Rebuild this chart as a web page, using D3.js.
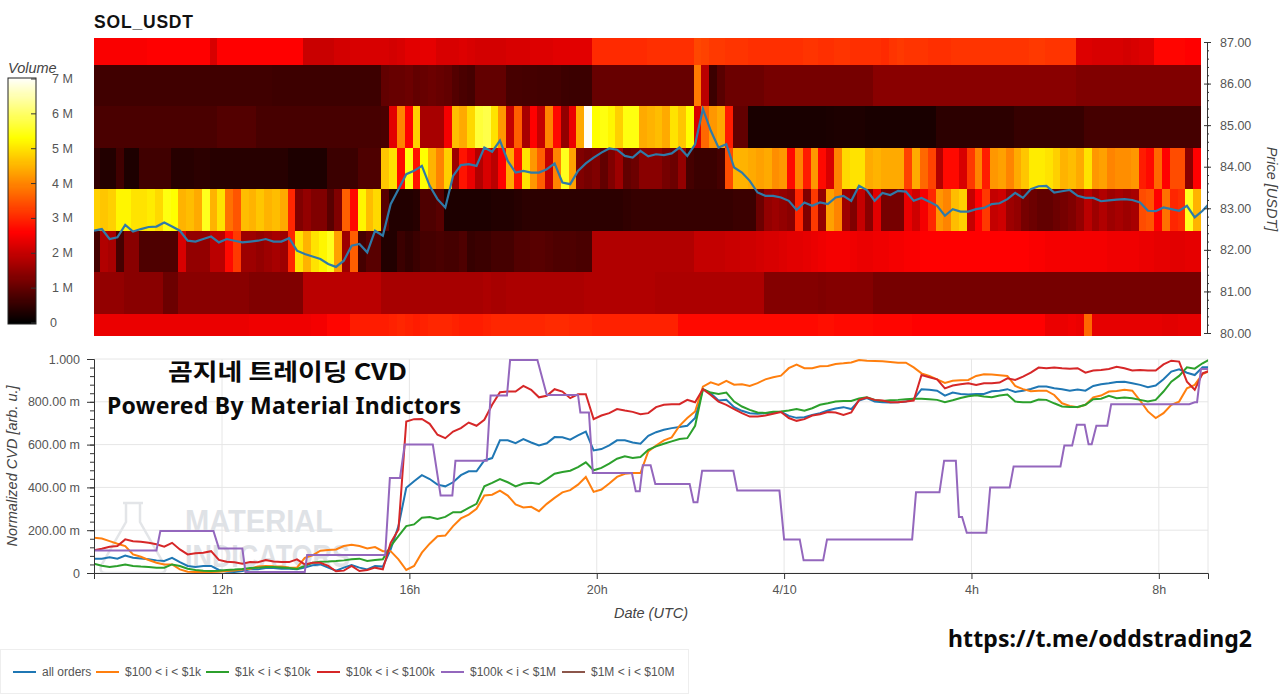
<!DOCTYPE html>
<html>
<head>
<meta charset="utf-8">
<script src="https://cdn.jsdelivr.net/npm/d3@7/dist/d3.min.js"></script>
<style>
	html, body { margin: 0; padding: 0; background: #fff; overflow: hidden; }
	svg { display: block; font-family: "Liberation Sans", Arial, sans-serif; }
	.axis text { fill: #555; font-size: 12.5px; font-family: "Liberation Sans", Arial, sans-serif; }
	.axis line, .axis path { stroke: #333; }
	.axis-label { fill: #444; font-size: 14.5px; font-style: italic; }
	.overlay { fill: #0a0a0a; font-weight: 700; font-family: "Noto Sans CJK KR", "Noto Sans", sans-serif; }
</style>
</head>
<body>
<svg id="chart" width="1280" height="694"></svg>
<script>
// time base of the chart, every series is in minutes after this
var startTime = Date.UTC(2024, 3, 9, 9, 16);
var endMinutes = 1427, heatEndMinutes = 1417, stepMinutes = 10, heatShiftMinutes = -2;

var priceEdges = [79.93, 80.47, 81.47, 82.47, 83.47, 84.47, 85.47, 86.47, 87.1];
var priceTicks = [80, 81, 82, 83, 84, 85, 86, 87];
var cvdTicks = [0, 0.2, 0.4, 0.6, 0.8, 1];
var cvdTickLabels = ["0", "200.00 m", "400.00 m", "600.00 m", "800.00 m", "1.000"];
var volumeTicks = [0, 1, 2, 3, 4, 5, 6, 7];
var volumeTickLabels = ["0", "1 M", "2 M", "3 M", "4 M", "5 M", "6 M", "7 M"];
var volumeStops = [0, 2.6, 5.3, 7.05];
var volumeColors = ["#000000", "#ff0000", "#ffff00", "#ffffff"];
var timeTickLabels = ["12h", "16h", "20h", "4/10", "4h", "8h"];
var legendLabels = ["all orders", "$100 < i < $1k", "$1k < i < $10k", "$10k < i < $100k", "$100k < i < $1M", "$1M < i < $10M"];
var legendColors = ["#1f77b4", "#ff7f0e", "#2ca02c", "#d62728", "#9467bd", "#8c564b"];

// volume per price bin (millions), one value per 10 minute column
var heat80 = [2.4,2.4,2.4,2.4,2.4,2.4,2.4,2.4,2.4,2.4, 2.4,2.4,2.4,2.4,2.4,2.4,2.4,2.4,2.4,2.4, 2.45,2.45,2.45,2.45,2.45,2.45,2.45,2.45,2.5,2.5,
	2.65,2.65,2.65,2.9,2.9,2.9,2.9,2.9,2.95,3.0, 2.95,2.9,2.95,3.0,3.0,3.0,2.95,2.9,2.9,2.9, 2.95,3.0,3.0,3.0,3.0,3.0,3.0,3.0,3.05,3.05,
	3.05,3.0,3.0,3.0,2.95,2.95,2.95,2.95,2.95,2.95, 2.95,2.95,2.95,2.95,2.95,2.7,2.7,2.7,2.7,2.7, 2.7,2.7,2.7,2.7,2.7,2.7,2.7,2.7,2.7,2.7,
	2.7,2.7,2.7,2.75,2.75,2.7,2.7,2.7,2.7,2.7, 2.65,2.65,2.65,2.65,2.65,2.6,2.6,2.6,2.6,2.6, 2.6,2.6,2.6,2.6,2.6,2.6,2.6,2.6,2.6,2.6,
	2.6,2.6,2.4,2.4,2.4,2.45,2.4,3.7,2.35,2.35, 2.35,2.35,2.35,2.35,2.35,2.35,2.35,2.3,2.3,2.35, 2.35,2.35];
var heat81 = [1.5,1.5,1.5,1.5,1.4,1.4,1.4,1.4,1.4,1.1, 1.1,1.4,1.4,1.4,1.4,1.4,1.4,1.4,1.4,1.4, 1.3,1.3,1.3,1.3,1.3,1.3,1.3,1.9,1.9,1.9,
	1.9,1.9,1.9,1.9,1.9,1.9,1.9,1.7,1.7,1.7, 1.7,1.7,1.7,1.7,1.7,1.7,1.7,1.7,1.7,1.7, 1.75,1.7,1.7,1.75,1.75,1.75,1.75,1.75,1.75,1.75,
	1.75,1.75,1.75,1.8,1.8,1.8,1.8,1.8,1.8,1.8, 1.8,1.8,1.75,1.75,1.75,1.75,1.75,1.75,1.75,1.75, 1.75,1.75,1.75,1.75,1.75,1.75,1.35,1.35,1.35,1.35,
	1.35,1.35,1.35,1.3,1.35,1.35,1.35,1.35,1.35,1.35, 1.2,1.2,1.2,1.2,1.2,1.2,1.2,1.2,1.2,1.2, 1.2,1.2,1.2,1.2,1.2,1.2,1.2,1.2,1.2,1.2,
	1.2,1.2,1.2,1.2,1.2,1.2,1.2,1.2,1.2,1.2, 1.2,1.2,1.2,1.2,1.2,1.2,1.2,1.2,1.2,1.2, 1.2,1.2];
var heat82 = [.7,1.8,1.7,.7,1.4,1.4,.8,.8,.8,.8, .8,2.2,1.5,1.5,1.5,1.9,1.9,2.7,3.2,1.6, 1.6,1.5,1.6,1.7,1.6,3.0,5.0,4.5,5.0,5.2,
	5.5,4.3,1.6,3.6,.7,.9,.9,.35,.35,.6, .5,.6,.7,.7,.75,.7,.7,.8,.55,.6, .6,.7,.7,.7,.85,.85,.9,.9,.85,.8,
	.8,.8,.75,.75,1.8,1.8,1.8,1.8,1.8,1.8, 1.8,1.8,1.8,1.8,1.8,1.8,1.8,2.0,2.0,2.0, 2.0,2.05,2.05,2.1,2.1,2.15,2.2,2.2,2.25,2.3,
	2.3,2.35,2.4,2.45,2.5,2.5,2.5,2.45,2.4,2.4, 2.45,2.45,2.5,2.5,2.55,2.55,2.6,2.6,2.6,2.6, 2.6,2.6,2.6,2.6,2.6,2.6,2.6,2.6,2.6,2.6,
	2.55,2.55,2.5,2.5,2.5,2.5,2.5,2.5,2.5,2.5, 2.45,2.45,2.45,2.45,2.4,2.4,2.35,2.35,2.3,2.3, 2.35,2.35];
var heat83 = [4.8,4.7,4.8,5.2,5.2,5.0,5.0,5.1,4.9,5.4, 5.3,4.5,4.6,4.4,5.5,4.5,5.0,3.8,3.5,4.6, 4.5,4.7,4.5,4.6,4.4,3.0,1.3,1.5,1.3,1.3,
	.9,1.3,3.6,2.7,5.2,4.6,4.9,.9,.35,.35, .35,.4,.8,.8,.9,.3,.3,.3,.3,.3, .3,.35,.35,.35,.4,.45,.45,.45,.45,.45,
	.45,.45,.45,.45,.45,.45,.45,.45,.5,.55, .55,.55,.55,.55,.55,.55,.55,.55,.55,.55, .55,.55,.6,.6,.6,1.1,1.5,1.6,1.5,1.4,
	3.0,1.3,3.2,1.5,4.3,4.0,1.6,1.3,2.0,1.4, 2.3,1.2,1.2,1.2,2.4,2.1,2.5,3.0,4.2,4.0, 4.6,4.8,2.0,2.6,3.2,2.0,2.1,1.6,1.5,1.2,
	1.1,1.0,1.0,1.1,1.2,1.3,1.5,1.9,1.6,1.8, 1.6,1.7,1.6,1.7,3.4,3.5,2.6,3.8,3.0,3.1, 5.5,4.5];
var heat84 = [.5,.35,.35,.65,.3,.3,.65,.65,.65,.65, .4,.4,.4,.45,.45,.4,.4,.4,.4,.4, .4,.4,.4,.4,.4,.3,.3,.3,.3,.3,
	.6,.6,.6,.6,.8,.8,.8,4.7,5.0,2.7, 5.4,2.8,5.3,4.5,4.0,4.8,1.6,2.8,2.4,1.8, 2.2,1.9,2.6,4.4,2.8,5.0,4.2,3.6,2.0,4.0,
	5.5,4.3,1.3,1.2,1.3,1.0,1.3,1.6,1.0,1.1, 1.4,1.4,1.4,1.2,1.1,1.5,.7,.6,.6,.6, .7,3.4,4.5,4.5,4.4,4.3,4.4,4.1,4.2,2.7,
	4.0,2.9,4.2,2.7,2.2,4.0,4.9,5.0,5.0,4.4, 4.5,4.4,4.4,4.4,3.3,4.4,3.7,3.3,1.8,2.7, 2.7,2.2,3.2,4.0,2.9,4.2,4.3,4.0,4.4,4.7,
	5.1,5.1,5.0,4.8,4.5,4.6,4.4,5.0,4.2,4.3, 4.0,4.1,4.1,4.2,2.9,2.7,3.7,2.6,3.4,3.4, 1.4,2.6];
var heat85 = [.75,.75,.75,.75,.75,.75,.75,.75,.75,.75, .75,.75,.75,.75,.75,.75,.85,.85,.85,.85, .85,.72,.72,.72,.72,.72,.72,.72,.72,.72,
	.72,.72,.72,.72,.72,.72,.72,.75,2.3,4.0, 2.6,4.8,1.7,1.7,1.7,2.5,4.6,4.4,4.9,5.7, 5.8,5.0,4.2,2.0,3.6,1.7,2.6,2.0,4.0,2.7,
	1.5,2.4,4.4,7.0,5.3,5.4,5.2,4.8,5.4,5.4, 4.4,4.5,4.6,4.4,5.0,4.7,5.3,2.2,3.7,4.2, 4.4,2.9,1.0,1.0,.25,.25,.25,.25,.25,.25,
	.25,.25,.25,.25,.28,.3,.3,.3,.3,.25, .25,.25,.25,.25,.25,.25,.25,.25,.45,.45, .45,.45,.45,.45,.45,.45,.45,.45,.55,.55,
	.55,.55,.55,.55,.55,.55,.55,.7,.7,.7, .7,.7,.7,.7,.7,.7,.7,.7,.7,.7, .7,.7];
var heat86 = [.65,.65,.65,.65,.65,.65,.65,.65,.65,.65, .65,.65,.65,.65,.65,.65,.65,.65,.65,.65, .65,.65,.65,.62,.62,.62,.62,.62,.62,.62,
	.62,.62,.62,.62,.62,.62,.62,1.0,1.05,1.05, 1.1,1.0,1.05,1.1,1.05,1.0,.85,.75,.7,1.0, 1.0,1.0,1.0,.72,.72,.7,.7,.68,.68,.68,
	.62,.6,.6,.6,1.05,1.05,1.05,1.05,1.05,1.05, 1.05,1.05,1.05,1.05,1.05,1.05,1.05,3.9,1.9,.6, .9,1.1,1.1,1.1,1.1,1.1,1.2,1.2,1.2,1.2,
	1.2,1.2,1.2,1.2,1.2,1.2,1.2,1.2,1.2,1.2, 1.4,1.4,1.4,1.4,1.4,1.4,1.4,1.4,1.4,1.4, 1.4,1.4,1.4,1.4,1.4,1.4,1.4,1.4,1.4,1.4,
	1.4,1.4,1.4,1.4,1.4,1.4,1.3,1.3,1.3,1.3, 1.3,1.3,1.3,1.3,1.3,1.3,1.3,1.3,1.3,1.3, 1.3,1.3];
var heat87 = [2.55,2.55,2.55,2.55,2.55,2.55,2.55,2.6,2.6,2.6, 2.6,2.6,2.6,2.6,2.6,2.2,2.6,2.6,2.6,2.6, 2.6,2.6,2.6,2.6,2.6,2.6,2.6,2.05,2.05,2.05,
	2.05,2.15,2.15,2.2,2.2,2.2,2.2,2.2,2.15,2.2, 2.3,2.3,2.35,2.35,2.2,2.2,2.2,2.25,2.2,2.15, 2.15,2.15,2.15,2.2,2.2,2.2,2.25,2.25,2.25,2.3,
	2.3,2.3,2.3,2.3,3.05,3.05,3.05,3.05,3.05,3.05, 3.05,3.1,3.1,3.1,3.1,3.1,3.1,3.35,3.3,3.2, 3.2,3.15,3.15,3.15,3.1,3.1,3.1,3.1,3.1,3.1,
	3.1,3.15,3.15,3.1,3.1,3.15,3.15,3.1,3.1,3.1, 3.1,3.05,3.15,3.2,3.15,3.15,3.15,3.1,3.1,3.1, 3.15,3.15,3.15,3.15,3.15,3.15,3.15,3.15,3.15,3.15,
	3.2,3.2,3.15,3.15,3.15,3.15,2.25,2.25,2.2,2.2, 2.2,2.2,2.15,2.2,2.25,2.25,2.65,2.65,2.65,2.65, 2.6,2.6];

// price, one value every 10 minutes
var priceValues = [82.46,82.50,82.26,82.30,82.60,82.44,82.50,82.55,82.56,82.66, 82.56,82.46,82.22,82.20,82.26,82.32,82.18,82.26,82.22,82.18,
	82.20,82.22,82.26,82.20,82.20,82.28,81.98,81.90,81.84,81.78, 81.66,81.59,81.74,82.10,82.14,81.94,82.46,82.34,83.10,83.46,
	83.82,83.90,84.02,83.54,83.22,83.02,83.78,84.04,84.06,84.02, 84.46,84.36,84.63,84.14,83.86,83.90,83.86,83.86,83.94,84.08,
	83.62,83.58,83.90,84.08,84.22,84.34,84.44,84.41,84.26,84.22, 84.38,84.25,84.30,84.28,84.32,84.46,84.26,84.54,85.39,84.87,
	84.46,84.54,83.98,83.86,83.66,83.38,83.30,83.30,83.26,83.18, 82.96,83.14,83.06,83.14,83.10,83.26,83.30,83.18,83.54,83.44,
	83.18,83.37,83.32,83.42,83.40,83.18,83.25,83.16,83.06,82.82, 82.98,82.92,82.92,82.98,83.01,83.10,83.12,83.22,83.37,83.25,
	83.46,83.53,83.54,83.38,83.41,83.44,83.30,83.25,83.25,83.17, 83.19,83.21,83.22,83.20,83.14,82.94,82.93,83.02,82.98,82.94,
	83.06,82.78,82.94,83.14];

// normalized CVD, one value every 10 minutes
var cvdAll = [.067,.067,.073,.067,.082,.071,.068,.064,.059,.056, .071,.051,.033,.028,.033,.033,.014,.006,.005,.009, .017,.017,.023,.023,.020,.020,.017,.025,.036,.040,
	.025,.011,.025,.037,.025,.017,.033,.030,.110,.219, .398,.429,.457,.439,.413,.405,.424,.457,.475,.475, .526,.537,.620,.620,.607,.626,.610,.596,.606,.635,
	.634,.623,.643,.661,.573,.579,.596,.620,.620,.610, .604,.641,.658,.669,.677,.682,.688,.724,.859,.840, .806,.809,.775,.758,.747,.744,.747,.750,.753,.734,
	.725,.728,.738,.747,.759,.769,.775,.766,.806,.817, .801,.798,.797,.798,.801,.812,.859,.856,.852,.829, .843,.837,.834,.837,.837,.849,.852,.859,.846,.852,
	.860,.871,.871,.863,.859,.852,.857,.852,.874,.882, .887,.893,.894,.887,.879,.868,.876,.905,.941,.952, .936,.925,.961,.961];
var cvd100 = [.165,.161,.149,.137,.126,.087,.076,.061,.048,.040, .040,.017,.006,.005,.005,.005,.006,.009,.012,.016, .020,.030,.033,.031,.030,.026,.025,.071,.082,.104,
	.107,.110,.126,.132,.126,.115,.121,.102,.102,.064, .014,.033,.095,.137,.172,.175,.219,.255,.273,.300, .362,.366,.385,.362,.320,.306,.309,.289,.323,.351,
	.377,.387,.413,.449,.379,.390,.418,.449,.464,.467, .467,.568,.596,.620,.634,.688,.724,.755,.871,.891, .879,.898,.880,.882,.874,.887,.905,.915,.922,.957,
	.974,.957,.957,.966,.967,.977,.980,.984,.995,.992, .991,.989,.986,.983,.983,.961,.933,.921,.905,.888, .898,.901,.902,.921,.929,.927,.924,.921,.874,.859,
	.849,.852,.852,.832,.793,.781,.775,.786,.821,.829, .848,.851,.856,.852,.806,.755,.724,.747,.786,.801, .863,.879,.930,.946];
var cvd1k = [.043,.034,.028,.033,.040,.033,.030,.028,.025,.025, .040,.033,.020,.014,.011,.009,.011,.014,.016,.019, .023,.025,.028,.028,.026,.023,.019,.033,.048,.053,
	.054,.056,.059,.064,.067,.056,.061,.064,.126,.172, .219,.227,.258,.262,.253,.262,.284,.284,.304,.323, .405,.421,.439,.424,.405,.418,.422,.416,.439,.464,
	.472,.478,.495,.517,.480,.491,.511,.534,.545,.537, .542,.576,.592,.604,.615,.626,.630,.688,.859,.843, .837,.843,.801,.778,.762,.750,.748,.753,.755,.759,
	.766,.758,.770,.786,.793,.801,.804,.804,.815,.821, .809,.804,.807,.809,.812,.814,.814,.812,.809,.798, .807,.818,.826,.831,.825,.821,.829,.834,.801,.798,
	.798,.811,.809,.793,.778,.776,.776,.786,.812,.814, .828,.817,.820,.817,.809,.801,.809,.848,.894,.921, .961,.955,.980,1.0];
var cvd10k = [.106,.113,.123,.126,.157,.148,.146,.141,.134,.123, .141,.110,.087,.092,.095,.102,.061,.053,.050,.043, .051,.050,.061,.054,.051,.051,.064,.040,.048,.048,
	.033,.008,.011,.033,.009,.014,.025,.017,.141,.203, .708,.719,.720,.697,.646,.630,.661,.677,.703,.688, .716,.786,.845,.848,.848,.874,.856,.821,.828,.859,
	.848,.817,.835,.835,.719,.736,.747,.766,.759,.753, .742,.747,.775,.786,.789,.789,.809,.798,.859,.832, .801,.786,.766,.747,.731,.731,.736,.744,.752,.724,
	.711,.719,.736,.742,.752,.750,.739,.750,.809,.820, .809,.806,.798,.798,.801,.806,.925,.915,.905,.863, .876,.882,.887,.879,.887,.887,.890,.910,.902,.918,
	.936,.960,.957,.960,.957,.955,.957,.936,.946,.949, .953,.964,.957,.946,.949,.946,.946,.975,.992,.988, .894,.856,.933,.946];

// the $100k series moves in steps, so it keeps its own corner times
var stepMinutesList = [0,80,85,153,160,190,194,270,273,373,379,392,398,434,444,459,463,503,508,529,533,568,580,620,623,634,639,689,694,699,703,713,719,763,768,773,779,819,824,878,884,904,909,934,939,1048,1053,1083,1089,1104,1108,1112,1118,1143,1148,1173,1178,1238,1243,1253,1259,1269,1274,1278,1284,1298,1303,1403,1410,1413,1418,1427];
var cvd100k = [.105,.105,.196,.196,.115,.115,.005,.005,.084,.084,.444,.444,.6,.6,.362,.362,.525,.525,.829,.829,.995,.995,.832,.832,.75,.75,.467,.467,.382,.382,.503,.503,.416,.416,.331,.331,.478,.478,.385,.385,.157,.157,.059,.059,.157,.157,.377,.377,.525,.525,.262,.262,.188,.188,.4,.4,.498,.498,.596,.596,.693,.693,.602,.602,.688,.688,.789,.789,.798,.798,.953,.953];

var gridColor = "#e6e6e6";
var left = 94, right = 1208;

var svg = d3.select("#chart");

function toDate(minutes){
	return new Date(startTime + minutes * 60000);
}

var x = d3.scaleUtc()
		.domain([toDate(0), toDate(endMinutes)])
		.range([left, right]);

var yPrice = d3.scaleLinear().domain([80, 87]).range([333, 42]);
var yCvd = d3.scaleLinear().domain([0, 1]).range([573, 359]);
var yVolume = d3.scaleLinear().domain([0, 7]).range([323, 79]);
var volumeColor = d3.scaleLinear().domain(volumeStops).range(volumeColors);

svg.append("clipPath").attr("id", "plotClip")
	.append("rect").attr("x", left).attr("y", 30).attr("width", right - left).attr("height", 543);

/*
========== heatmap ==========
*/
var heatRows = [heat80, heat81, heat82, heat83, heat84, heat85, heat86, heat87];
var heatGroup = svg.append("g").attr("shape-rendering", "crispEdges");

function heatEdge(i){
	return x(toDate(Math.min(Math.max(i * stepMinutes + heatShiftMinutes, 0), heatEndMinutes)));
}

heatRows.forEach(function(row, r){
	heatGroup.selectAll(null)
		.data(row)
		.enter()
		.append("rect")
		.attr("x", function(d, i){ return heatEdge(i); })
		.attr("y", yPrice(priceEdges[r + 1]))
		.attr("width", function(d, i){ return heatEdge(i + 1) - heatEdge(i) + 0.5; })
		.attr("height", yPrice(priceEdges[r]) - yPrice(priceEdges[r + 1]) + 0.5)
		.attr("fill", function(d){ return volumeColor(d); });
});

var gridLine = function(yScale){
	return d3.line()
		.x(function(d, i){ return x(toDate(i * stepMinutes)); })
		.y(function(d){ return yScale(d); });
};

svg.append("path")
	.datum(priceValues)
	.attr("clip-path", "url(#plotClip)")
	.attr("fill", "none")
	.attr("stroke", "#2f7aa8")
	.attr("stroke-width", 2.2)
	.attr("d", gridLine(yPrice));

// price axis on the right
var priceAxis = svg.append("g")
	.attr("class", "axis")
	.attr("transform", "translate(" + (right - 1) + ",0)")
	.call(d3.axisRight(yPrice)
		.tickValues(priceTicks)
		.tickFormat(d3.format(".2f"))
		.tickSizeOuter(0)
		.tickSize(4)
		.tickPadding(9));
priceAxis.selectAll(".tick line").attr("x1", -3);

var priceMinor = d3.range(80, 87.01, 0.2);
svg.append("g")
	.attr("class", "axis")
	.attr("transform", "translate(" + (right - 1) + ",0)")
	.call(d3.axisRight(yPrice).tickValues(priceMinor).tickFormat("").tickSizeOuter(0).tickSize(2))
	.select(".domain").remove();

svg.append("text")
	.attr("class", "axis-label")
	.attr("transform", "translate(1267,189) rotate(90)")
	.attr("text-anchor", "middle")
	.text("Price [USDT]");

svg.append("text")
	.attr("x", 94)
	.attr("y", 28)
	.attr("fill", "#111")
	.attr("font-size", 17.5)
	.attr("font-weight", 700)
	.attr("textLength", 99)
	.text("SOL_USDT");

/*
========== colorbar ==========
*/
var barLevels = d3.range(0, 7.04, 0.03);
svg.append("g")
	.attr("shape-rendering", "crispEdges")
	.selectAll("rect")
	.data(barLevels)
	.enter()
	.append("rect")
	.attr("x", 8)
	.attr("width", 28)
	.attr("y", function(d){ return yVolume(d + 0.03); })
	.attr("height", yVolume(0) - yVolume(0.03) + 0.5)
	.attr("fill", function(d){ return volumeColor(d); });

svg.append("rect")
	.attr("x", 8).attr("y", 78)
	.attr("width", 28).attr("height", 246)
	.attr("fill", "none")
	.attr("stroke", "#222");

var volumeAxis = svg.append("g").attr("class", "axis");
volumeAxis.selectAll("line")
	.data(volumeTicks)
	.enter()
	.append("line")
	.attr("x1", 31).attr("x2", 36)
	.attr("y1", function(d){ return yVolume(d); })
	.attr("y2", function(d){ return yVolume(d); });
volumeAxis.selectAll("text")
	.data(volumeTicks)
	.enter()
	.append("text")
	.attr("x", function(d){ return d == 0 ? 50 : 52; })
	.attr("y", function(d){ return yVolume(d) + 4; })
	.text(function(d, i){ return volumeTickLabels[i]; });

svg.append("text")
	.attr("class", "axis-label")
	.attr("x", 8)
	.attr("y", 73)
	.text("Volume");

/*
========== CVD panel ==========
*/
var timeTicks = x.ticks(d3.utcHour.every(4));

var cvdGrid = svg.append("g").attr("stroke", gridColor).attr("stroke-width", 1);
cvdGrid.selectAll(".h")
	.data(cvdTicks)
	.enter()
	.append("line")
	.attr("class", "h")
	.attr("x1", left).attr("x2", right)
	.attr("y1", function(d){ return yCvd(d); })
	.attr("y2", function(d){ return yCvd(d); });
cvdGrid.selectAll(".v")
	.data(timeTicks.concat([toDate(endMinutes)]))
	.enter()
	.append("line")
	.attr("class", "v")
	.attr("x1", function(d){ return x(d); })
	.attr("x2", function(d){ return x(d); })
	.attr("y1", yCvd(1)).attr("y2", yCvd(0));

// watermark behind the lines
var mark = svg.append("g").attr("clip-path", "url(#plotClip)");
mark.append("path")
	.attr("d", "M123,503 L143,503 M126,503 L126,522 L101,566 Q99,573 106,573 L160,573 Q167,573 165,566 L140,522 L140,503")
	.attr("fill", "none")
	.attr("stroke", "#e3e5e8")
	.attr("stroke-width", 2.5);
mark.append("text")
	.attr("x", 185).attr("y", 532)
	.attr("fill", "#dfe2e6")
	.attr("font-size", 31)
	.attr("font-weight", 700)
	.attr("textLength", 148)
	.attr("lengthAdjust", "spacingAndGlyphs")
	.text("MATERIAL");
mark.append("text")
	.attr("x", 185).attr("y", 567)
	.attr("fill", "#dfe2e6")
	.attr("font-size", 31)
	.attr("font-weight", 700)
	.attr("textLength", 165)
	.attr("lengthAdjust", "spacingAndGlyphs")
	.text("INDICATORS");

var cvdSeries = [cvdAll, cvd100, cvd1k, cvd10k];
svg.append("g")
	.attr("clip-path", "url(#plotClip)")
	.selectAll("path")
	.data(cvdSeries)
	.enter()
	.append("path")
	.attr("fill", "none")
	.attr("stroke", function(d, i){ return legendColors[i]; })
	.attr("stroke-width", 2)
	.attr("d", gridLine(yCvd));

svg.append("path")
	.datum(cvd100k)
	.attr("clip-path", "url(#plotClip)")
	.attr("fill", "none")
	.attr("stroke", legendColors[4])
	.attr("stroke-width", 2)
	.attr("d", d3.line()
		.x(function(d, i){ return x(toDate(stepMinutesList[i])); })
		.y(function(d){ return yCvd(d); }));

// left axis
svg.append("g")
	.attr("class", "axis")
	.attr("transform", "translate(" + left + ",0)")
	.call(d3.axisLeft(yCvd)
		.tickValues(cvdTicks)
		.tickFormat(function(d, i){ return cvdTickLabels[i]; })
		.tickSizeOuter(0)
		.tickSize(7)
		.tickPadding(7));

svg.append("g")
	.attr("class", "axis")
	.attr("transform", "translate(" + left + ",0)")
	.call(d3.axisLeft(yCvd).tickValues(d3.range(0, 1.001, 0.04)).tickFormat("").tickSizeOuter(0).tickSize(4))
	.select(".domain").remove();

// time axis
svg.append("g")
	.attr("class", "axis")
	.attr("transform", "translate(0," + yCvd(0) + ")")
	.call(d3.axisBottom(x)
		.tickValues(timeTicks)
		.tickFormat(function(d, i){ return timeTickLabels[i]; })
		.tickSizeOuter(0)
		.tickSize(6)
		.tickPadding(6));

svg.append("text")
	.attr("class", "axis-label")
	.attr("x", 651)
	.attr("y", 618)
	.attr("text-anchor", "middle")
	.text("Date (UTC)");

svg.append("text")
	.attr("class", "axis-label")
	.attr("transform", "translate(17,466) rotate(-90)")
	.attr("text-anchor", "middle")
	.text("Normalized CVD [arb. u.]");

/*
========== legend ==========
*/
var legendX = [13, 96, 206, 317, 441, 562];
var legend = svg.append("g");
legend.append("rect")
	.attr("x", 0.5).attr("y", 649.5)
	.attr("width", 688).attr("height", 44)
	.attr("fill", "#fff")
	.attr("stroke", "#eeeeee");

var legendItem = legend.selectAll(".item")
	.data(legendLabels)
	.enter()
	.append("g")
	.attr("class", "item")
	.attr("transform", function(d, i){ return "translate(" + legendX[i] + ",672)"; });
legendItem.append("line")
	.attr("x1", 0).attr("x2", 23)
	.attr("stroke", function(d, i){ return legendColors[i]; })
	.attr("stroke-width", 2);
legendItem.append("text")
	.attr("x", 29)
	.attr("y", 4)
	.attr("fill", "#555")
	.attr("font-size", 12)
	.text(function(d){ return d; });

/*
========== text put over the chart ==========
*/
svg.append("text").attr("class", "overlay")
	.attr("x", 168).attr("y", 380)
	.attr("font-size", 23)
	.attr("textLength", 239)
	.attr("lengthAdjust", "spacingAndGlyphs")
	.text("곰지네 트레이딩 CVD");
svg.append("text").attr("class", "overlay")
	.attr("x", 107).attr("y", 414)
	.attr("font-size", 23)
	.attr("textLength", 354)
	.style("font-family", "'Noto Sans', sans-serif")
	.text("Powered By Material Indictors");
svg.append("text").attr("class", "overlay")
	.attr("x", 948).attr("y", 647)
	.attr("font-size", 23)
	.attr("textLength", 304)
	.style("font-family", "'Noto Sans', sans-serif")
	.text("https://t.me/oddstrading2");
</script>
</body>
</html>
